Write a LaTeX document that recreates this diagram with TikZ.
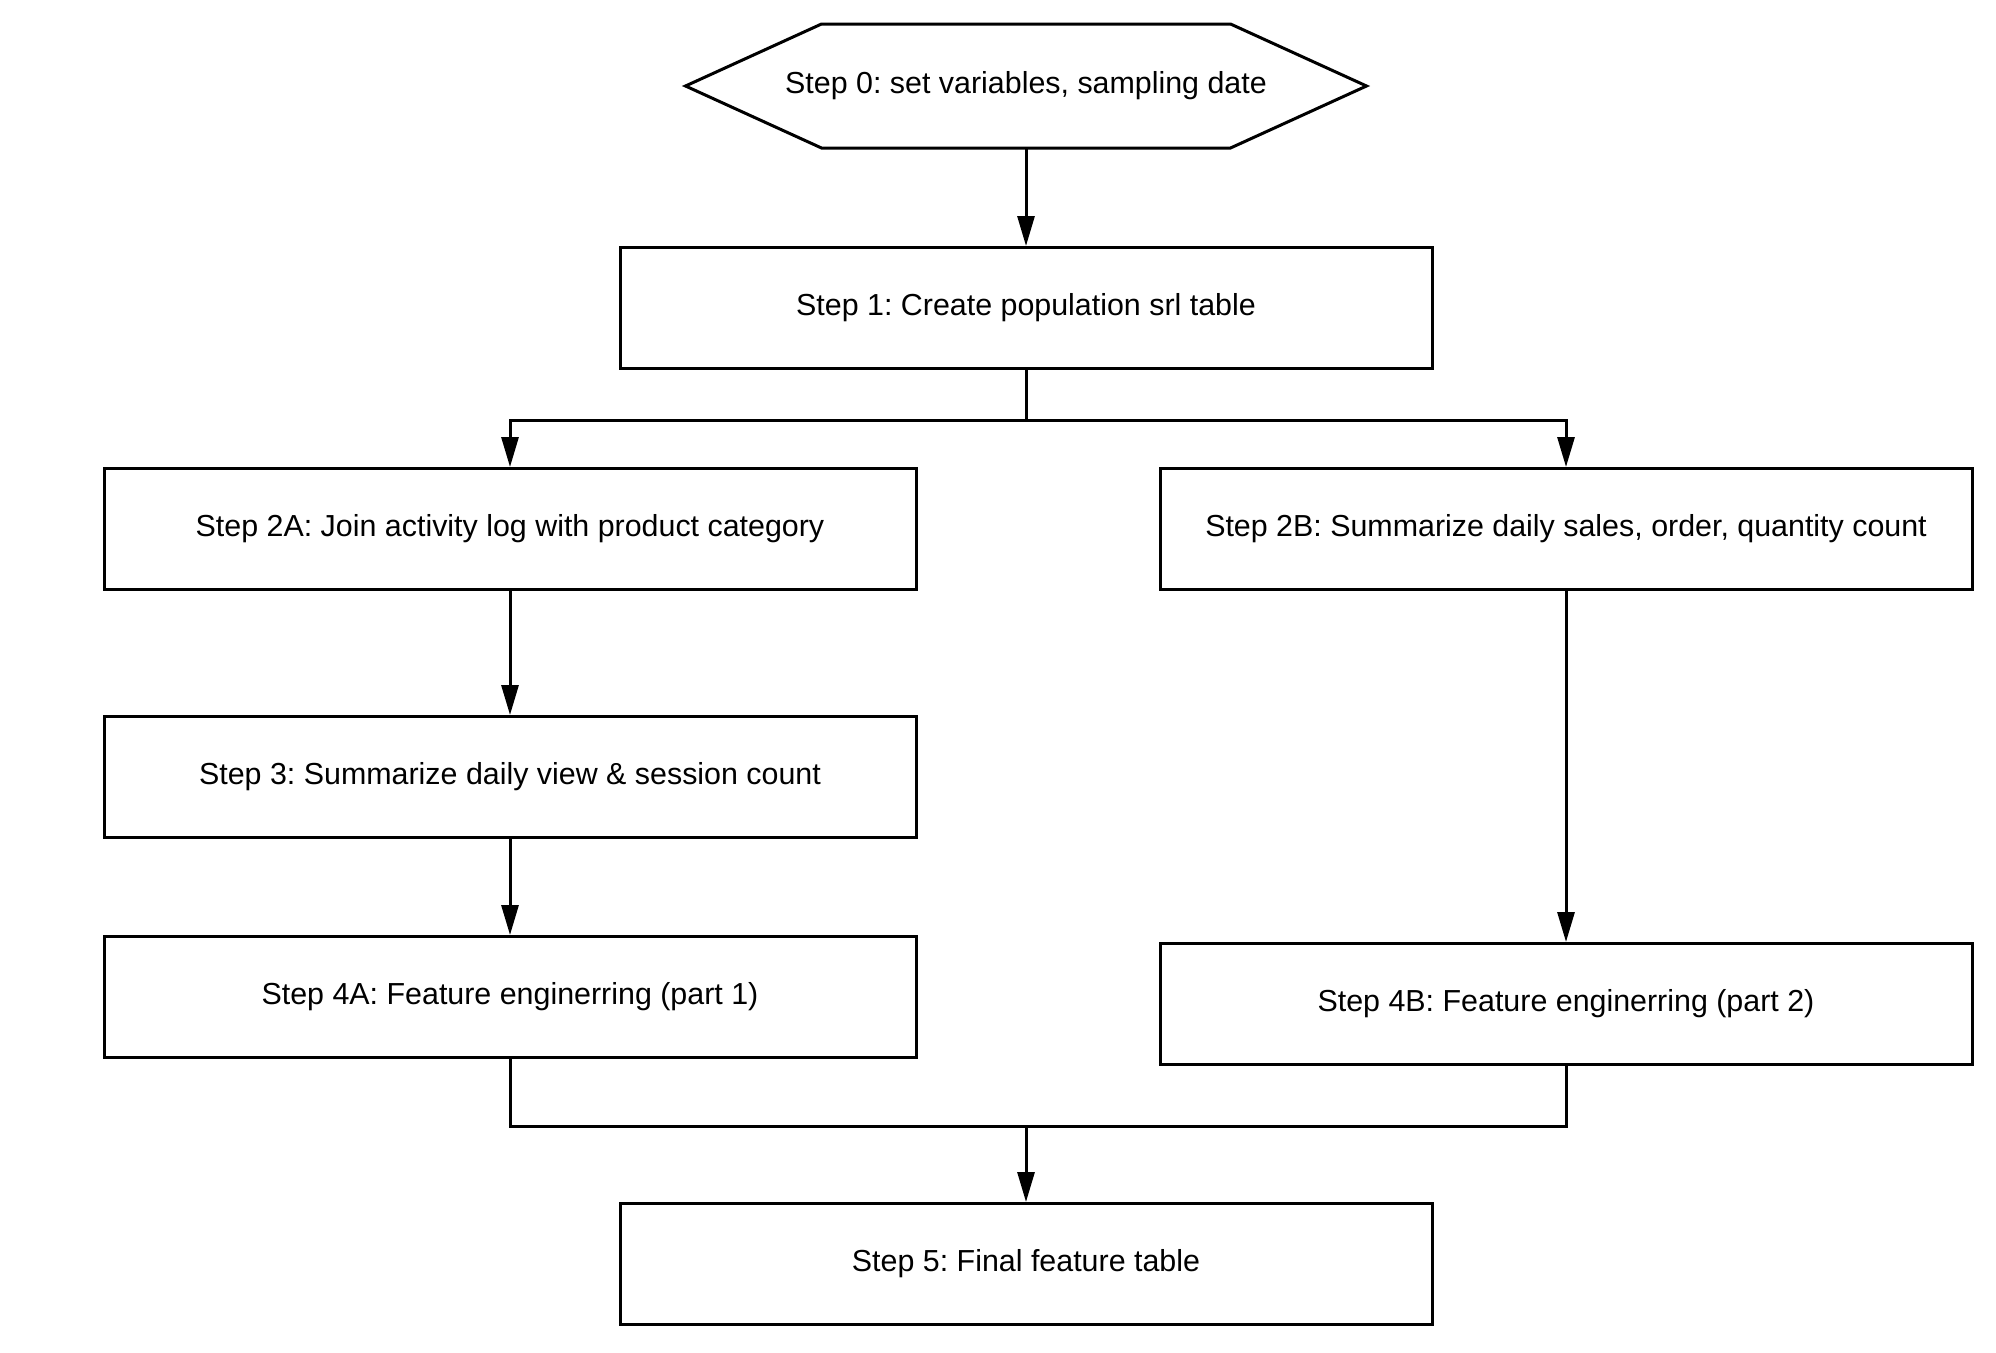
\documentclass[tikz,border=0pt]{standalone}
\usepackage{fontspec}
\setmainfont{Liberation Sans}
\usetikzlibrary{arrows.meta}
\begin{document}
\frenchspacing
\begin{tikzpicture}[x=1pt,y=-1pt,
  line width=3pt,
  every node/.style={font=\fontsize{30.4}{35}\selectfont, inner sep=0pt},
  stepbox/.style={draw, rectangle, minimum width=812pt, minimum height=121pt},
  hexbox/.style={rectangle, minimum width=678pt, minimum height=121pt},
  arr/.style={-{Triangle[length=30pt,width=17pt]}, line width=3pt}]
\useasboundingbox (0,0) rectangle (1996,1352);
\node[hexbox] (s0) at (1026,86) {\raisebox{4pt}{Step 0: set variables, sampling date}};
\draw (s0.west) -- ([xshift=136pt]s0.north west) -- ([xshift=-136pt]s0.north east)
  -- (s0.east) -- ([xshift=-136pt]s0.south east) -- ([xshift=136pt]s0.south west) -- cycle;
\node[stepbox] (s1) at (1026,308) {\raisebox{4pt}{Step 1: Create population srl table}};
\node[stepbox] (s2a) at (510,529) {\raisebox{4pt}{Step 2A: Join activity log with product category}};
\node[stepbox] (s2b) at (1566,529) {\raisebox{4pt}{Step 2B: Summarize daily sales, order, quantity count}};
\node[stepbox] (s3) at (510,777) {\raisebox{4pt}{Step 3: Summarize daily view \& session count}};
\node[stepbox] (s4a) at (510,997) {\raisebox{4pt}{Step 4A: Feature enginerring (part 1)}};
\node[stepbox] (s4b) at (1566,1004) {\raisebox{4pt}{Step 4B: Feature enginerring (part 2)}};
\node[stepbox] (s5) at (1026,1264) {\raisebox{4pt}{Step 5: Final feature table}};
\coordinate (m) at (1026,1126);
\draw[arr] (s0.south) -- (s1.north);
\draw[arr] (s1.south) -- ++(0,50) -| (s2a.north);
\draw[arr] (s1.south) -- ++(0,50) -| (s2b.north);
\draw[arr] (s2a.south) -- (s3.north);
\draw[arr] (s3.south) -- (s4a.north);
\draw[arr] (s2b.south) -- (s4b.north);
\draw (s4a.south) |- (m) -| (s4b.south);
\draw[arr] (m) -- (s5.north);
\end{tikzpicture}
\end{document}
